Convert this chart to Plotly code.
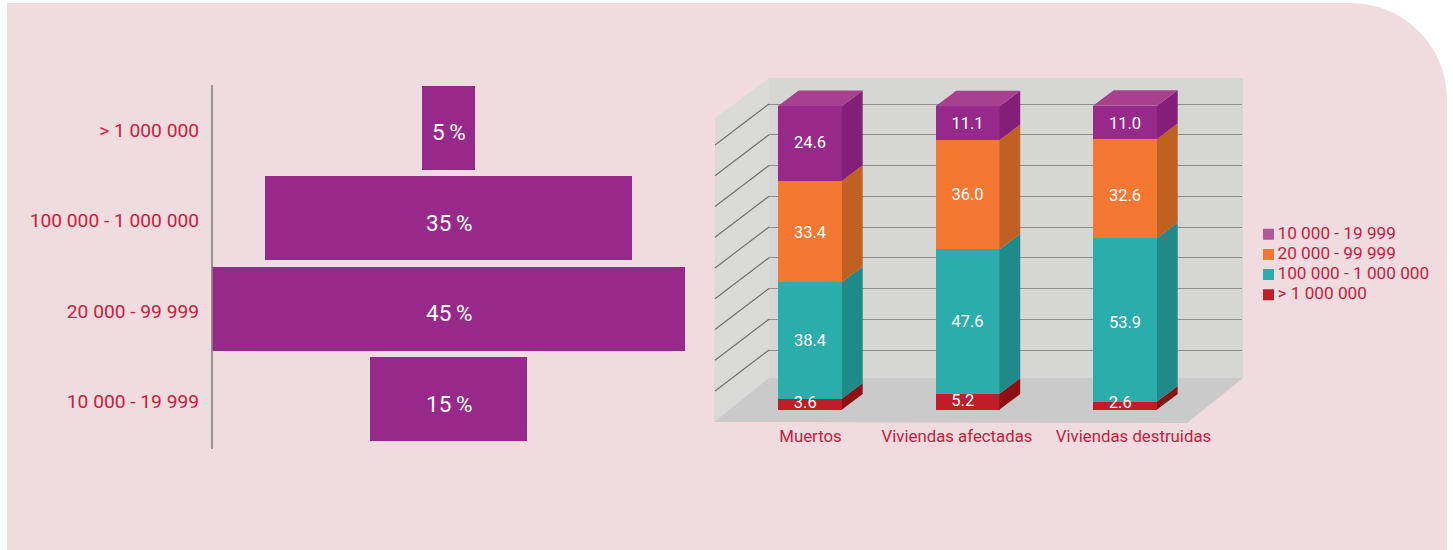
import plotly.graph_objects as go

W, H = 1453, 550

# ---- data ----
size_labels = ["> 1 000 000", "100 000 - 1 000 000", "20 000 - 99 999", "10 000 - 19 999"]
size_shares = [5, 35, 45, 15]

impact_categories = ["Muertos", "Viviendas afectadas", "Viviendas destruidas"]
gt_1m = [3.6, 5.2, 2.6]
m100k_1m = [38.4, 47.6, 53.9]
k20_99 = [33.4, 36.0, 32.6]
k10_19 = [24.6, 11.1, 11.0]

legend_labels = ["10 000 - 19 999", "20 000 - 99 999", "100 000 - 1 000 000", "> 1 000 000"]

# ---- style ----
FONT = "Roboto"
TXT = "#c9203f"
PANEL = "#f0dcde"
PURPLE = "#96298a"


def px(x):
    return x / W


def py(y):
    return (H - y) / H


def dom_x(a, b):
    return [px(a), px(b)]


def dom_y(top, bottom):
    return [py(bottom), py(top)]


def poly(points, color):
    d = "M " + " L ".join(f"{px(x):.5f},{py(y):.5f}" for x, y in points) + " Z"
    return dict(type="path", xref="paper", yref="paper", path=d, fillcolor=color,
                line=dict(width=0), layer="below")


# rounded panel
panel_path = (
    f"M {px(7):.5f},{py(550):.5f} L {px(7):.5f},{py(3):.5f} L {px(1350):.5f},{py(3):.5f} "
    f"C {px(1404):.5f},{py(3):.5f} {px(1447):.5f},{py(46):.5f} {px(1447):.5f},{py(100):.5f} "
    f"L {px(1447):.5f},{py(550):.5f} Z"
)
shapes = [
    dict(type="path", xref="paper", yref="paper", path=panel_path, fillcolor=PANEL,
         line=dict(width=0), layer="below"),
    poly([(769, 78), (1243, 78), (1243, 378), (769, 378)], "#d6d6d4"),
    poly([(715, 118), (769, 78), (769, 378), (714, 422)], "#dadad8"),
    poly([(714, 422), (769, 378), (1243, 378), (1187, 423)], "#cacaca"),
    dict(type="line", xref="paper", yref="paper", x0=px(212), x1=px(212), y0=py(85), y1=py(449),
         line=dict(color="#808080", width=1.6)),
]

fig = go.Figure()

# ---- left chart: centred bars ----
BAR_W = 0.928
fig.add_trace(go.Bar(
    orientation="h", y=size_labels, x=size_shares,
    base=[-v / 2 for v in size_shares],
    width=BAR_W, offset=-BAR_W / 2 - 0.026,
    marker=dict(color=PURPLE, line=dict(width=0)),
    xaxis="x", yaxis="y", showlegend=False,
))
annotations = [
    dict(x=0, y=lab, xref="x", yref="y", text=f"{v}\u2009%", showarrow=False, yshift=-2,
         font=dict(family=FONT, size=22.5, color="white", weight=400))
    for lab, v in zip(size_labels, size_shares)
]

# ---- back wall grid (its own axes so that it stays behind the columns) ----
grid_values = list(range(10, 91, 10))
fig.add_trace(go.Scatter(x=[None], y=[None], mode="markers", xaxis="x2", yaxis="y2",
                         showlegend=False, hoverinfo="skip"))

# ---- right chart: stacked bars with depth faces ----
PX_PER_CAT = 157.5
PX_PER_PCT = 3.035
X0_PX = 810.0
Y0_PX = 409.5
DEPTH_X = 20.7 / PX_PER_CAT
DEPTH_Y = 15.5 / PX_PER_PCT
COL_W = 64 / PX_PER_CAT
BACK_PX_PER_UNIT = 3.075

series = [
    (legend_labels[3], gt_1m, "#bf1e26", "#8e0f14", [-2, -1, -3]),
    (legend_labels[2], m100k_1m, "#2badac", "#1f8a8a", [0, 0, 2.5]),
    (legend_labels[1], k20_99, "#f47732", "#c06022", [1, 0, 7]),
    (legend_labels[0], k10_19, PURPLE, "#841e78", [-1, 0, 1]),
]
xs = list(range(len(impact_categories)))
tick_positions_px = [810.5, 957, 1133.5]

# side-wall gridlines (continuation of the back-wall grid towards the viewer)
BACK_BASE = (Y0_PX - 380.75) / PX_PER_PCT
BACK_SCALE = BACK_PX_PER_UNIT / PX_PER_PCT
wall_x = (769 - X0_PX) / PX_PER_CAT
wall_dx = 54 / PX_PER_CAT
wall_dy = 41 / PX_PER_PCT
for g in grid_values:
    yb = BACK_BASE + g * BACK_SCALE
    fig.add_trace(go.Scatter(
        x=[wall_x - wall_dx, wall_x], y=[yb - wall_dy, yb], mode="lines",
        line=dict(color="#6e6e6e", width=1.1), xaxis="x3", yaxis="y3",
        showlegend=False, hoverinfo="skip",
    ))

bottoms = [0.0] * len(xs)
label_x, label_y, label_t = [], [], []
LABEL_DROP = 1.5 / PX_PER_PCT
for name, vals, front, side, nudges in series:
    fig.add_trace(go.Bar(
        x=xs, y=vals, width=COL_W, name=name,
        marker=dict(color=front, line=dict(width=0)),
        xaxis="x3", yaxis="y3", showlegend=False,
    ))
    for i, v in enumerate(vals):
        b = bottoms[i]
        t = b + v
        r = i + COL_W / 2
        fig.add_trace(go.Scatter(
            x=[r, r + DEPTH_X, r + DEPTH_X, r, r],
            y=[b, b + DEPTH_Y, t + DEPTH_Y, t, b],
            mode="lines", fill="toself", fillcolor=side, line=dict(width=0),
            xaxis="x3", yaxis="y3", showlegend=False, hoverinfo="skip",
        ))
        label_x.append(i - (0.03 if v < 6 else 0))
        label_y.append(b + v / 2 - LABEL_DROP - nudges[i] / PX_PER_PCT)
        label_t.append(f"{v:.1f}")
        bottoms[i] = t

# top faces
for i, top in enumerate(bottoms):
    l, r = i - COL_W / 2, i + COL_W / 2
    fig.add_trace(go.Scatter(
        x=[l, r, r + DEPTH_X, l + DEPTH_X, l],
        y=[top, top, top + DEPTH_Y, top + DEPTH_Y, top],
        mode="lines", fill="toself", fillcolor="#a84090", line=dict(width=0),
        xaxis="x3", yaxis="y3", showlegend=False, hoverinfo="skip",
    ))

fig.add_trace(go.Scatter(
    x=label_x, y=label_y, text=label_t, mode="text",
    textfont=dict(family=FONT, size=16.5, color="white", weight=400),
    xaxis="x3", yaxis="y3", showlegend=False,
))

# ---- legend drawn as its own small panel ----
fig.add_trace(go.Scatter(
    x=[0] * len(legend_labels), y=legend_labels, mode="markers",
    marker=dict(symbol="square", size=11, color=["#b3599b", "#f47732", "#2badac", "#bf1e26"]),
    xaxis="x4", yaxis="y4", showlegend=False,
))
fig.add_trace(go.Scatter(
    x=[9] * len(legend_labels), y=legend_labels, mode="text",
    text=legend_labels, textposition="middle right",
    textfont=dict(family=FONT, size=17.2, color=TXT),
    xaxis="x4", yaxis="y4", showlegend=False,
))

fig.update_layout(
    width=W, height=H,
    margin=dict(l=0, r=0, t=0, b=0),
    paper_bgcolor="white", plot_bgcolor="rgba(0,0,0,0)",
    barmode="stack", showlegend=False, shapes=shapes, annotations=annotations,
    font=dict(family=FONT, color=TXT),
    xaxis=dict(domain=dom_x(212, 685), range=[-22.52, 22.52], visible=False),
    yaxis=dict(domain=dom_y(84.75, 446.75), anchor="x", type="category",
               categoryorder="array", categoryarray=size_labels, autorange="reversed",
               showline=False, showgrid=False, ticks="", ticklabelstandoff=12,
               tickfont=dict(family=FONT, size=19.2, color=TXT)),
    xaxis2=dict(domain=dom_x(769, 1242), range=[0, 1], anchor="y2",
                showgrid=False, zeroline=False, showticklabels=False, ticks="", showline=False),
    yaxis2=dict(domain=dom_y(78, 380.75), range=[0, (380.75 - 78) / BACK_PX_PER_UNIT], anchor="x2",
                tickvals=grid_values, showticklabels=False, ticks="", showline=False,
                showgrid=True, gridcolor="#8c8c8c", gridwidth=1.4, zeroline=False),
    xaxis3=dict(domain=dom_x(700, 1250),
                range=[(700 - X0_PX) / PX_PER_CAT, (1250 - X0_PX) / PX_PER_CAT],
                anchor="y3", tickmode="array",
                tickvals=[(p - X0_PX) / PX_PER_CAT for p in tick_positions_px],
                ticktext=impact_categories, showgrid=False,
                showline=False, zeroline=False, ticks="", ticklabelstandoff=0,
                tickfont=dict(family=FONT, size=16.8, color=TXT)),
    yaxis3=dict(domain=dom_y(70, 424),
                range=[(Y0_PX - 424) / PX_PER_PCT, (Y0_PX - 70) / PX_PER_PCT],
                anchor="x3", visible=False),
    xaxis4=dict(domain=dom_x(1255, 1445), range=[-13.5, 176.5], anchor="y4", visible=False),
    yaxis4=dict(domain=dom_y(223.2, 305.8), anchor="x4", type="category",
                categoryorder="array", categoryarray=legend_labels,
                autorange="reversed", visible=False),
)

fig.write_html("out.html", config=dict(displayModeBar=False),
               post_script="document.body.style.margin='0';document.body.style.overflow='hidden';")
